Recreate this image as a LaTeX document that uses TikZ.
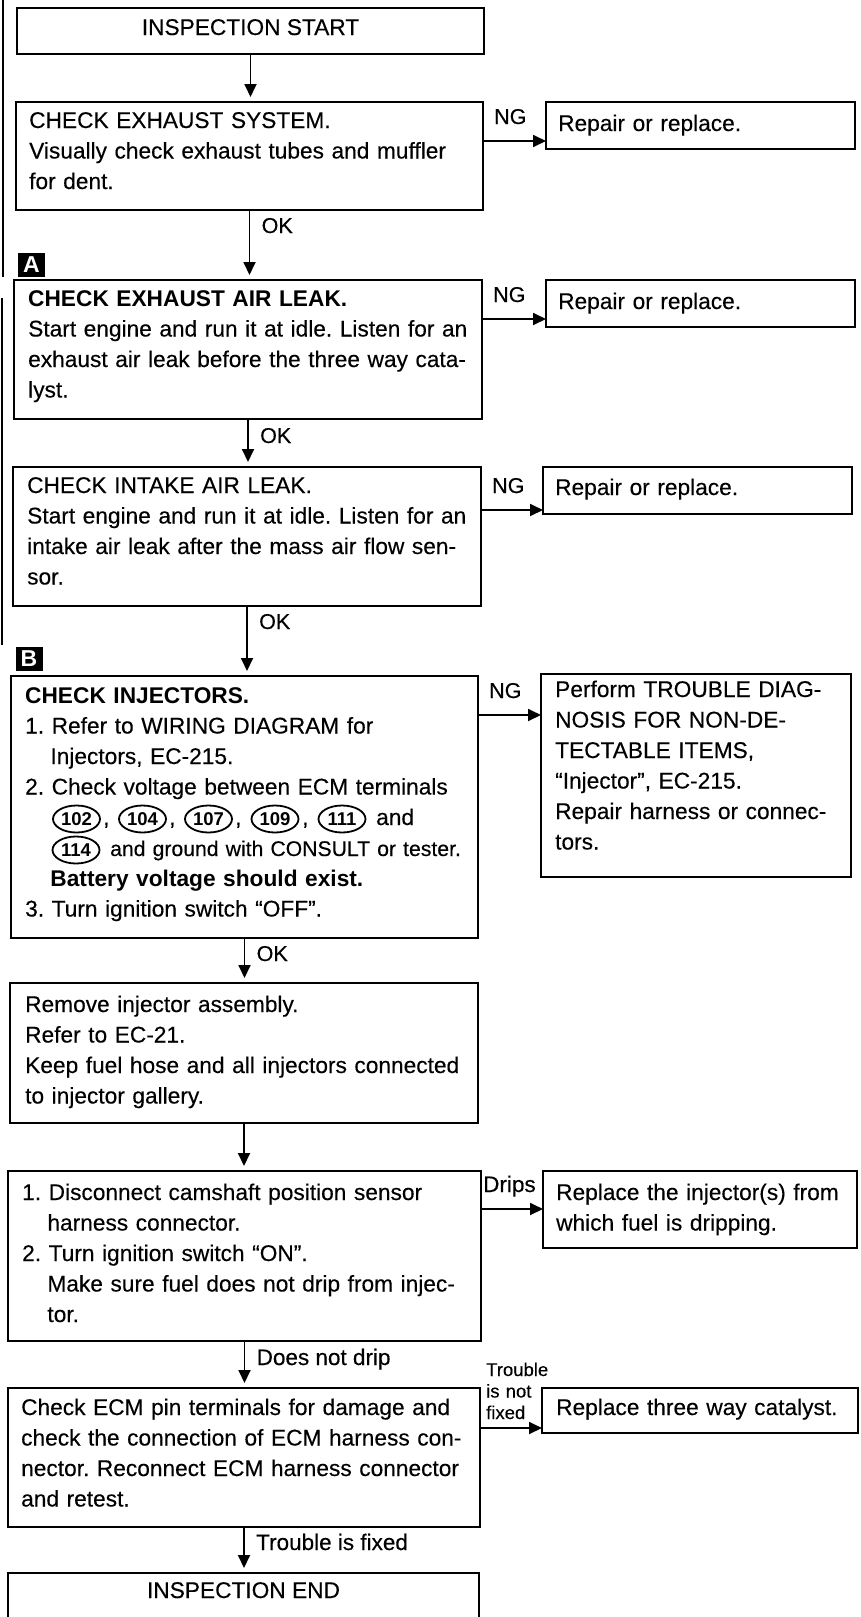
\documentclass[tikz,border=0pt]{standalone}
\usepackage{fontspec}
\setmainfont{Liberation Sans}[UprightFeatures={FakeBold=0.3}]
\usetikzlibrary{arrows.meta,shapes.geometric}
\frenchspacing
\newcommand\mainfs{\fontsize{22.7}{30.5}\selectfont\frenchspacing}
\newcommand\narrowfs{\fontsize{21.2}{30.5}\selectfont\frenchspacing}
\newcommand\lblfs{\fontsize{21.5}{24}\selectfont}
\newcommand\midfs{\fontsize{22.5}{26}\selectfont}
\newcommand\smallfs{\fontsize{18.5}{21.5}\selectfont}
\newcommand\numfs{\fontsize{18.5}{20}\selectfont\bfseries}
\newcommand\hang{\hspace*{1.112em}}
\begin{document}
\begin{tikzpicture}[x=1pt,y=-1pt,font=\mainfs,
  box/.style={draw, line width=1.9pt, rectangle, inner sep=0pt, outer sep=0pt, anchor=north west},
  txt/.style={anchor=base west, inner sep=0pt, text width=470pt, align=left},
  ctr/.style={anchor=base, inner sep=0pt},
  arr/.style={line width=1.8pt, -{Triangle[length=13pt,width=12pt]}},
  lbl/.style={anchor=base west, inner sep=0pt, font=\lblfs},
  cnum/.style={ellipse, draw, line width=1.8pt, minimum width=47pt, minimum height=27pt, inner sep=0pt, font=\numfs},
  marker/.style={fill=black, text=white, inner sep=0pt, minimum width=27pt, minimum height=24pt, font=\fontsize{23}{23}\selectfont\bfseries},
  margin/.style={line width=2pt}
]
\clip (0,0) rectangle (861,1617);
\fill[white] (0,0) rectangle (861,1617);

% margin marks
\draw[margin] (3,0) -- (3,277);
\draw[margin] (2,298) -- (2,645);

% boxes
\node[box, minimum width=467pt, minimum height=46pt] (start) at (17,8) {};
\node[box, minimum width=467pt, minimum height=108pt] (b1) at (16,102) {};
\node[box, minimum width=309pt, minimum height=47pt] (r1) at (546,102) {};
\node[box, minimum width=468pt, minimum height=139pt] (b2) at (14,280) {};
\node[box, minimum width=309pt, minimum height=47pt] (r2) at (546,280) {};
\node[box, minimum width=468pt, minimum height=139pt] (b3) at (13,467) {};
\node[box, minimum width=309pt, minimum height=47pt] (r3) at (543,467) {};
\node[box, minimum width=467pt, minimum height=262pt] (b4) at (11,676) {};
\node[box, minimum width=310pt, minimum height=203pt] (r4) at (541,674) {};
\node[box, minimum width=468pt, minimum height=140pt] (b5) at (10,983) {};
\node[box, minimum width=473pt, minimum height=170pt] (b6) at (8,1171) {};
\node[box, minimum width=314pt, minimum height=77pt] (r6) at (543,1171) {};
\node[box, minimum width=472pt, minimum height=139pt] (b7) at (8,1388) {};
\node[box, minimum width=316pt, minimum height=45pt] (r7) at (542,1388) {};
\node[box, minimum width=471pt, minimum height=90pt] (end) at (8,1573) {};

% markers
\node[marker] (mA) at (31.5,265) {A};
\node[marker] (mB) at (29,659) {B};

% texts
\node[ctr] (tstart) at (250.5,35) {INSPECTION START};
\node[txt] (t1) at (29,128) {CHECK EXHAUST SYSTEM.\\Visually check exhaust tubes and muffler\\for dent.};
\node[txt] (tr1) at (558,131) {Repair or replace.};
\node[txt] (t2) at (28,306) {\textbf{CHECK EXHAUST AIR LEAK.}\\Start engine and run it at idle. Listen for an\\exhaust air leak before the three way cata-\\lyst.};
\node[txt] (tr2) at (558,309) {Repair or replace.};
\node[txt] (t3) at (27,493) {CHECK INTAKE AIR LEAK.\\Start engine and run it at idle. Listen for an\\intake air leak after the mass air flow sen-\\sor.};
\node[txt] (tr3) at (555,495) {Repair or replace.};
\node[txt] (t4) at (25,703) {\textbf{CHECK INJECTORS.}\\1. Refer to WIRING DIAGRAM for\\\hang Injectors, EC-215.\\2. Check voltage between ECM terminals\\\mbox{}\\\mbox{}\\\hang\textbf{Battery voltage should exist.}\\3. Turn ignition switch “OFF”.};
\node[cnum] (c102) at (76.5,819) {102};
\node[txt] (k1) at (103,825) {,};
\node[cnum] (c104) at (142.5,819) {104};
\node[txt] (k2) at (169,825) {,};
\node[cnum] (c107) at (208.5,819) {107};
\node[txt] (k3) at (235,825) {,};
\node[cnum] (c109) at (275,819) {109};
\node[txt] (k4) at (302,825) {,};
\node[cnum] (c111) at (342,819) {111};
\node[txt] (and1) at (376,825) {and};
\node[cnum] (c114) at (76,850) {114};
\node[txt, font=\narrowfs] (t4b) at (110,856) {and ground with CONSULT or tester.};
\node[txt] (tr4) at (555,697) {Perform TROUBLE DIAG-\\NOSIS FOR NON-DE-\\TECTABLE ITEMS,\\“Injector”, EC-215.\\Repair harness or connec-\\tors.};
\node[txt] (t5) at (25,1012) {Remove injector assembly.\\Refer to EC-21.\\Keep fuel hose and all injectors connected\\to injector gallery.};
\node[txt] (t6) at (22,1200) {1. Disconnect camshaft position sensor\\\hang harness connector.\\2. Turn ignition switch “ON”.\\\hang Make sure fuel does not drip from injec-\\\hang tor.};
\node[txt] (tr6) at (556,1200) {Replace the injector(s) from\\which fuel is dripping.};
\node[txt] (t7) at (21,1415) {Check ECM pin terminals for damage and\\check the connection of ECM harness con-\\nector. Reconnect ECM harness connector\\and retest.};
\node[txt] (tr7) at (556,1415) {Replace three way catalyst.};
\node[ctr] (tend) at (243.5,1598) {INSPECTION END};

% vertical connectors
\draw[arr, shorten >=5pt] (start.south) -- (start.south |- b1.north);
\draw[arr, shorten >=5pt] (b1.south) -- (b1.south |- b2.north);
\draw[arr, shorten >=5pt] (b2.south) -- (b2.south |- b3.north);
\draw[arr, shorten >=5pt] (b3.south) -- (b3.south |- b4.north);
\draw[arr, shorten >=5pt] (b4.south) -- (b4.south |- b5.north);
\draw[arr, shorten >=5pt] (b5.south) -- (b5.south |- b6.north);
\draw[arr, shorten >=5pt] (b6.south) -- (b6.south |- b7.north);
\draw[arr, shorten >=5pt] (b7.south) -- (b7.south |- end.north);

\node[lbl] (ok1) at ([shift={(12,23)}]b1.south) {OK};
\node[lbl] (ok2) at ([shift={(12,24)}]b2.south) {OK};
\node[lbl] (ok3) at ([shift={(12,23)}]b3.south) {OK};
\node[lbl] (ok4) at ([shift={(12,23)}]b4.south) {OK};
\node[lbl, font=\midfs] (dnd) at ([shift={(12,24)}]b6.south) {Does not drip};
\node[lbl, font=\midfs] (tif) at ([shift={(12,23)}]b7.south) {Trouble is fixed};

% horizontal connectors
\path (b1.north east) ++(0,39) coordinate (n1);
\path (b2.north east) ++(0,39) coordinate (n2);
\path (b3.north east) ++(0,43) coordinate (n3);
\path (b4.north east) ++(0,39) coordinate (n4);
\path (b6.north east) ++(0,38) coordinate (n6);
\path (b7.north east) ++(0,40) coordinate (n7);
\draw[arr] (n1) -- (n1 -| r1.west);
\draw[arr] (n2) -- (n2 -| r2.west);
\draw[arr] (n3) -- (n3 -| r3.west);
\draw[arr] (n4) -- (n4 -| r4.west);
\draw[arr] (n6) -- (n6 -| r6.west);
\draw[arr] (n7) -- (n7 -| r7.west);

\node[lbl] (ng1) at ([shift={(11,-17)}]n1) {NG};
\node[lbl] (ng2) at ([shift={(11,-17)}]n2) {NG};
\node[lbl] (ng3) at ([shift={(11,-17)}]n3) {NG};
\node[lbl] (ng4) at ([shift={(11,-17)}]n4) {NG};
\node[lbl, font=\midfs] (drips) at ([shift={(2,-17)}]n6) {Drips};
\node[txt, font=\smallfs, text width=80pt] (tnf) at ([shift={(6,-52)}]n7) {Trouble\\is not\\fixed};
\end{tikzpicture}
\end{document}
